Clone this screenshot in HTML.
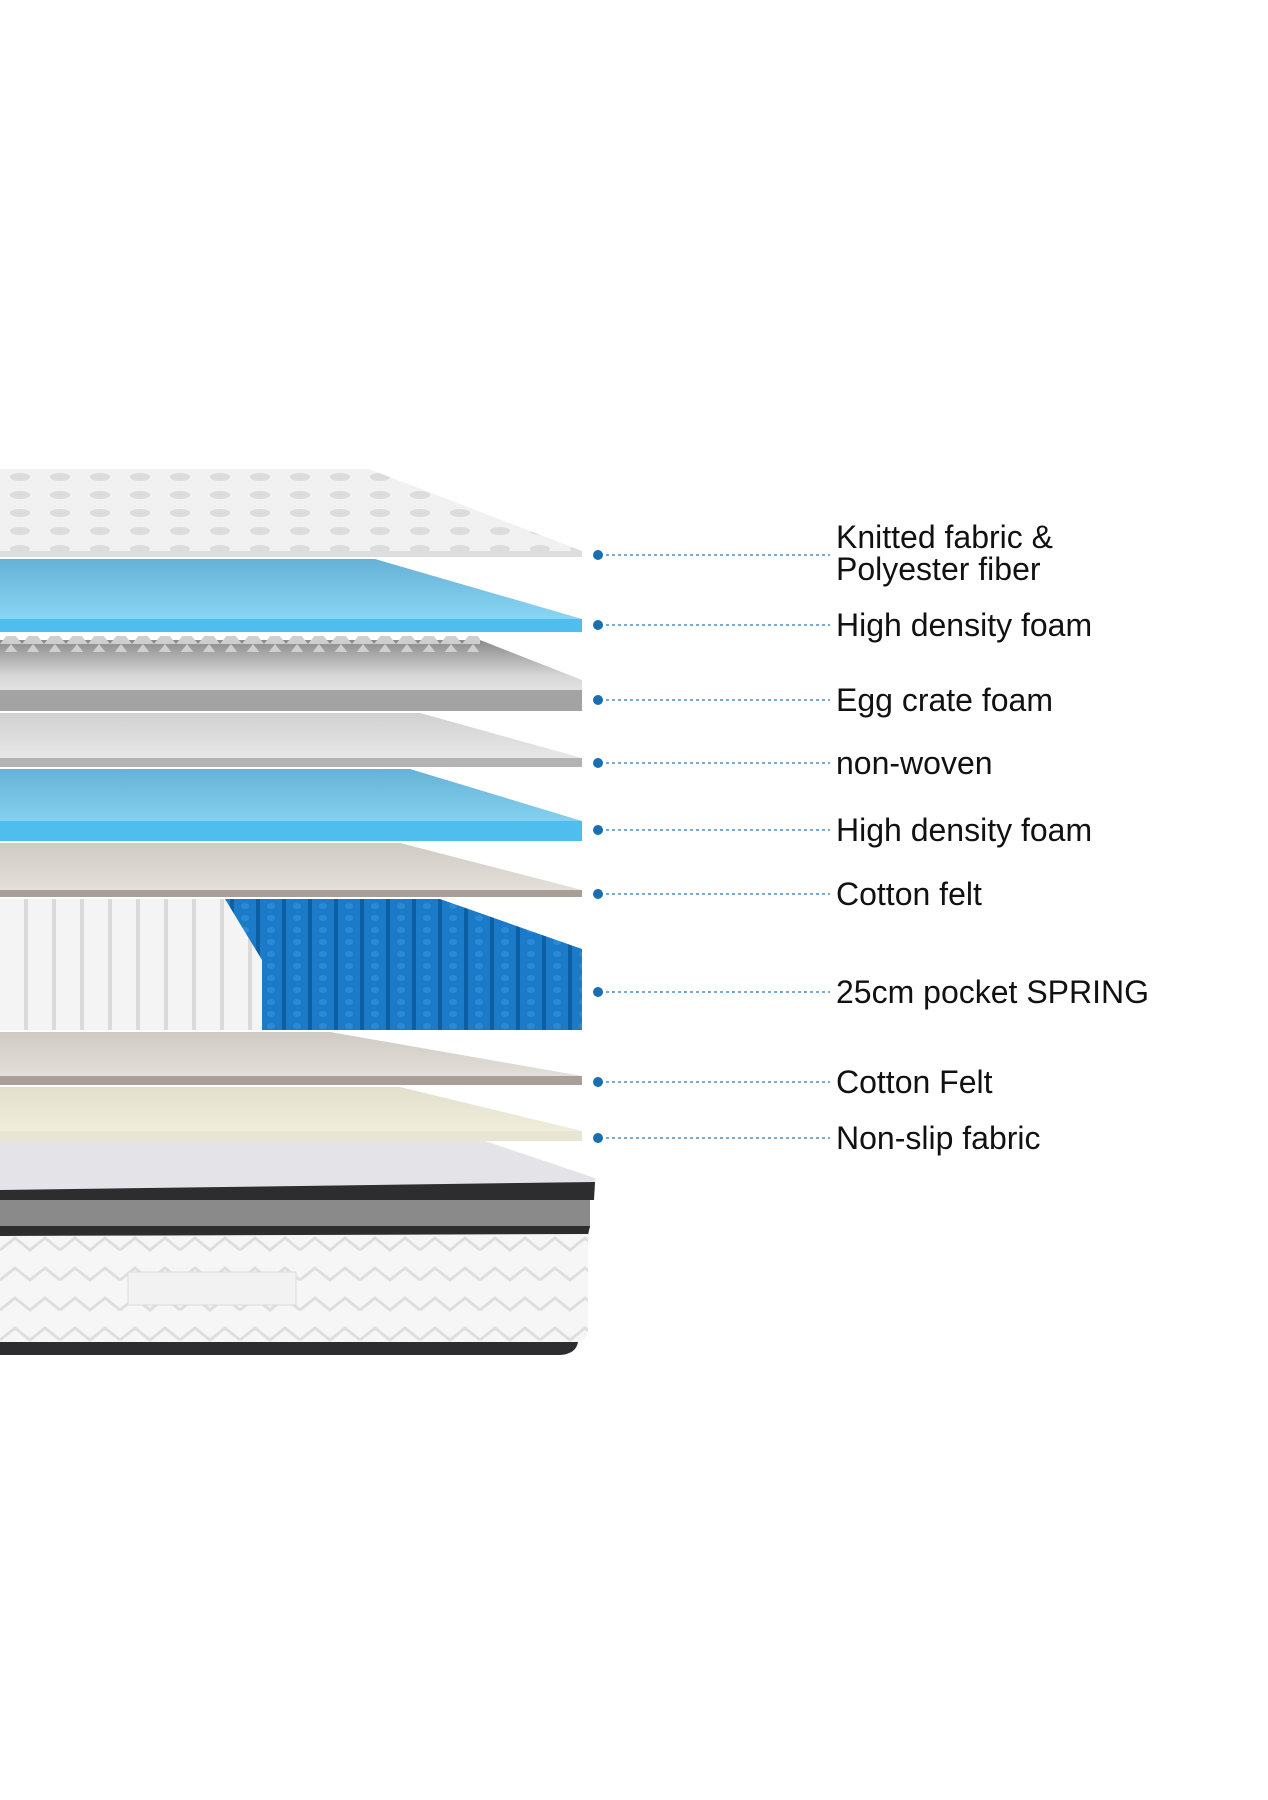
<!DOCTYPE html>
<html><head><meta charset="utf-8"><style>
html,body{margin:0;padding:0;background:#fff;}
svg{display:block}
text{font-family:"Liberation Sans",sans-serif;font-size:32px;fill:#111;}
</style></head><body>
<svg width="1268" height="1800" viewBox="0 0 1268 1800" xmlns="http://www.w3.org/2000/svg">
<defs>
<linearGradient id="blue" x1="0" y1="0" x2="0" y2="1"><stop offset="0" stop-color="#66b2d6"/><stop offset="1" stop-color="#8fdcfa"/></linearGradient>
<linearGradient id="egg" x1="0" y1="0" x2="0" y2="1"><stop offset="0" stop-color="#8a8a8a"/><stop offset="0.5" stop-color="#d6d6d6"/><stop offset="1" stop-color="#f2f2f2"/></linearGradient>
<linearGradient id="nw" x1="0" y1="0" x2="0" y2="1"><stop offset="0" stop-color="#d0d0d0"/><stop offset="1" stop-color="#ececec"/></linearGradient>
<linearGradient id="felt" x1="0" y1="0" x2="0" y2="1"><stop offset="0" stop-color="#cfcac4"/><stop offset="1" stop-color="#e6e2dc"/></linearGradient>
<linearGradient id="cream" x1="0" y1="0" x2="0" y2="1"><stop offset="0" stop-color="#e2e0cc"/><stop offset="1" stop-color="#f3f1de"/></linearGradient>
<pattern id="quilt" width="40" height="18" patternUnits="userSpaceOnUse"><rect width="40" height="18" fill="#f1f1f1"/><ellipse cx="20" cy="9" rx="10" ry="4" fill="#dcdcdc"/></pattern>
<pattern id="cone" width="22" height="14" patternUnits="userSpaceOnUse"><rect width="22" height="14" fill="none"/><path d="M0 14 L11 0 L22 14 Z" fill="#cfcfcf"/></pattern>
<pattern id="spw" width="28" height="12" patternUnits="userSpaceOnUse"><rect width="28" height="12" fill="#f4f4f4"/><rect x="24" width="4" height="12" fill="#dadada"/></pattern>
<pattern id="spb" width="26" height="12" patternUnits="userSpaceOnUse"><rect width="26" height="12" fill="#1b7bc9"/><rect x="22" width="4" height="12" fill="#0d5fa3"/><ellipse cx="11" cy="6" rx="4" ry="3" fill="#2a8ad6"/></pattern>
<pattern id="zig" width="60" height="30" patternUnits="userSpaceOnUse"><rect width="60" height="30" fill="#f6f6f6"/><path d="M0 20 L15 8 L30 20 L45 8 L60 20" stroke="#dedede" stroke-width="3" fill="none"/></pattern>
</defs>

<path d="M0 469 L369 469 L582 551 L582 557 L0 557 Z" fill="url(#quilt)"/>
<rect x="0" y="551" width="582" height="6" fill="#dedede"/>
<path d="M0 559 L375 559 L582 619 L582 632 L0 632 Z" fill="url(#blue)"/>
<rect x="0" y="619" width="582" height="13" fill="#4fbdee"/>
<path d="M0 640 L480 640 L582 680 L582 711 L0 711 Z" fill="url(#egg)"/>
<rect x="0" y="636" width="480" height="16" fill="url(#cone)"/>
<rect x="0" y="690" width="582" height="21" fill="#a3a3a3"/>
<path d="M0 713 L420 713 L582 758 L582 767 L0 767 Z" fill="url(#nw)"/>
<rect x="0" y="758" width="582" height="9" fill="#b3b3b3"/>
<path d="M0 769 L410 769 L582 821 L582 841 L0 841 Z" fill="url(#blue)"/>
<rect x="0" y="821" width="582" height="20" fill="#4fbdee"/>
<path d="M0 843 L400 843 L582 890 L582 897 L0 897 Z" fill="url(#felt)"/>
<rect x="0" y="890" width="582" height="7" fill="#a8a098"/>
<rect x="0" y="899" width="262" height="131" fill="url(#spw)"/>
<path d="M225 899 L440 899 L582 949 L582 1030 L262 1030 L262 960 Z" fill="url(#spb)"/>
<path d="M0 1032 L330 1032 L582 1076 L582 1085 L0 1085 Z" fill="url(#felt)"/>
<rect x="0" y="1076" width="582" height="9" fill="#a8a098"/>
<path d="M0 1087 L400 1087 L582 1131 L582 1141 L0 1141 Z" fill="url(#cream)"/>
<rect x="0" y="1131" width="582" height="10" fill="#e8e6d2"/>
<path d="M0 1141 L485 1141 L595 1178 L595 1190 L0 1190 Z" fill="#e4e4e8"/>
<path d="M0 1190 L595 1182 L594 1200 L0 1202 Z" fill="#2d2d30"/>
<rect x="0" y="1200" width="590" height="28" fill="#8a8a8a"/>
<path d="M0 1226 L590 1226 L588 1235 L0 1236 Z" fill="#2d2d30"/>
<path d="M0 1236 L588 1234 L588 1330 Q586 1345 570 1346 L0 1346 Z" fill="url(#zig)"/>
<rect x="128" y="1272" width="168" height="33" fill="#f2f2f2" stroke="#dcdcdc"/>
<path d="M0 1342 L578 1342 Q576 1354 560 1355 L0 1355 Z" fill="#2d2d30"/>

<g stroke="#4a8fbf" stroke-width="1.5" stroke-dasharray="3,3">
<line x1="600" y1="555" x2="830" y2="555"/>
<line x1="600" y1="625" x2="830" y2="625"/>
<line x1="600" y1="700" x2="830" y2="700"/>
<line x1="600" y1="763" x2="830" y2="763"/>
<line x1="600" y1="830" x2="830" y2="830"/>
<line x1="600" y1="894" x2="830" y2="894"/>
<line x1="600" y1="992" x2="830" y2="992"/>
<line x1="600" y1="1082" x2="830" y2="1082"/>
<line x1="600" y1="1138" x2="830" y2="1138"/>
</g>
<g fill="#1a6fb0">
<circle cx="598" cy="555" r="5"/><circle cx="598" cy="625" r="5"/><circle cx="598" cy="700" r="5"/>
<circle cx="598" cy="763" r="5"/><circle cx="598" cy="830" r="5"/><circle cx="598" cy="894" r="5"/>
<circle cx="598" cy="992" r="5"/><circle cx="598" cy="1082" r="5"/><circle cx="598" cy="1138" r="5"/>
</g>
<text x="836" y="548">Knitted fabric &amp;</text>
<text x="836" y="580">Polyester fiber</text>
<text x="836" y="636">High density foam</text>
<text x="836" y="711">Egg crate foam</text>
<text x="836" y="774">non-woven</text>
<text x="836" y="841">High density foam</text>
<text x="836" y="905">Cotton felt</text>
<text x="836" y="1003">25cm pocket SPRING</text>
<text x="836" y="1093">Cotton Felt</text>
<text x="836" y="1149">Non-slip fabric</text>
</svg>
</body></html>
